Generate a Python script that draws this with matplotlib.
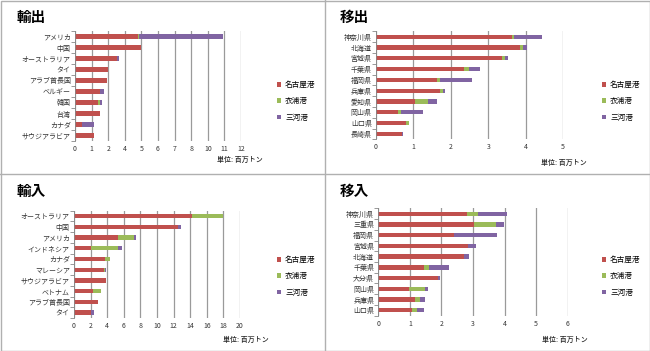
import matplotlib
matplotlib.use('Agg')
import matplotlib.pyplot as plt
from matplotlib.lines import Line2D
from matplotlib.patches import Rectangle
import numpy as np

plt.rcParams['font.family'] = ['Noto Sans CJK JP', 'DejaVu Sans']

ports = ['名古屋港', '衣浦港', '三河港']
colors = ['#C0504D', '#9BBB59', '#8064A2']

# 輸出 (the x axis in the picture has labels 0 1 2 4 5 6 7 8 10 11 12 on 10 equal steps)
exp_cats = ['アメリカ', '中国', 'オーストラリア', 'タイ', 'アラブ首長国', 'ベルギー',
            '韓国', '台湾', 'カナダ', 'サウジアラビア']
exp_nagoya = [3.80, 3.96, 2.56, 1.98, 1.92, 1.50, 1.40, 1.48, 0.40, 1.16]
exp_kinuura = [0.06, 0, 0, 0, 0, 0, 0.10, 0, 0, 0]
exp_mikawa = [5.08, 0, 0.08, 0, 0, 0.26, 0.14, 0, 0.76, 0]
exp_ticklabels = ['0', '1', '2', '4', '5', '6', '7', '8', '10', '11', '12']

# 移出
out_cats = ['神奈川県', '北海道', '宮城県', '千葉県', '福岡県', '兵庫県', '愛知県',
            '岡山県', '山口県', '長崎県']
out_nagoya = [3.63, 3.85, 3.38, 2.34, 1.64, 1.72, 1.04, 0.59, 0.80, 0.69]
out_kinuura = [0.05, 0.08, 0.06, 0.15, 0.08, 0.07, 0.36, 0.09, 0.07, 0]
out_mikawa = [0.75, 0.12, 0.10, 0.30, 0.86, 0.05, 0.23, 0.58, 0, 0.03]

# 輸入
imp_cats = ['オーストラリア', '中国', 'アメリカ', 'インドネシア', 'カナダ', 'マレーシア',
            'サウジアラビア', 'ベトナム', 'アラブ首長国', 'タイ']
imp_nagoya = [14.25, 12.55, 5.35, 2.00, 3.74, 3.62, 3.82, 2.33, 2.86, 2.05]
imp_kinuura = [3.65, 0, 1.93, 3.27, 0.56, 0.16, 0, 0.89, 0, 0]
imp_mikawa = [0.09, 0.29, 0.16, 0.48, 0, 0.08, 0, 0, 0, 0.32]

# 移入
in_cats = ['神奈川県', '三重県', '福岡県', '宮城県', '北海道', '千葉県', '大分県',
           '岡山県', '兵庫県', '山口県']
in_nagoya = [2.80, 3.04, 2.39, 2.83, 2.73, 1.45, 1.88, 0.98, 1.17, 1.07]
in_kinuura = [0.37, 0.69, 0.02, 0, 0, 0.16, 0, 0.51, 0.14, 0.15]
in_mikawa = [0.90, 0.26, 1.34, 0.26, 0.13, 0.64, 0.08, 0.07, 0.17, 0.24]

W, H = 650, 351
fig = plt.figure(figsize=(W / 100, H / 100), dpi=100)


def px_rect(left, right, top, bottom):
    return [left / W, 1 - bottom / H, (right - left) / W, (bottom - top) / H]


def panel(rect, title, title_xy, cats, series, xmax, step, legend_xy, unit_xy,
          ticklabels=None):
    ax = fig.add_axes(px_rect(*rect))
    y = np.arange(len(cats))
    left = np.zeros(len(cats))
    handles = []
    for vals, c in zip(series, colors):
        vals = np.array(vals, dtype=float)
        b = ax.barh(y, vals, left=left, height=0.4, color=c, linewidth=0, zorder=3)
        handles.append(b)
        left += vals
    ax.set_ylim(len(cats) - 0.5, -0.5)
    ax.set_xlim(0, xmax)
    ticks = np.arange(0, xmax + step / 2, step)
    ax.set_xticks(ticks)
    if ticklabels is not None:
        ax.set_xticklabels(ticklabels)
    else:
        ax.set_xticklabels([f'{t:g}' for t in ticks])
    ax.set_yticks(y)
    ax.set_yticklabels(cats)
    ax.set_yticks(np.arange(-0.5, len(cats)), minor=True)
    ax.tick_params(axis='y', which='major', length=0, labelsize=5, pad=3, colors='#333333')
    ax.tick_params(axis='y', which='minor', length=3, width=0.6, color='#888888')
    ax.tick_params(axis='x', length=0, labelsize=5, pad=3, colors='#333333')
    ax.grid(axis='x', color='#9a9a9a', linewidth=0.9, zorder=0)
    for s in ['top', 'right', 'bottom']:
        ax.spines[s].set_visible(False)
    ax.spines['left'].set_color('#888888')
    ax.spines['left'].set_linewidth(0.6)
    ax.spines['left'].set_zorder(4)

    fig.text(title_xy[0] / W, 1 - title_xy[1] / H, title, fontsize=10.5,
             fontweight='bold', ha='left', va='center')
    fig.text(unit_xy[0] / W, 1 - unit_xy[1] / H, '単位: 百万トン', fontsize=5,
             fontweight='medium', ha='right', va='center', color='#222222')
    ax.legend(handles, ports, loc='upper left',
              bbox_to_anchor=(legend_xy[0] / W, 1 - legend_xy[1] / H),
              bbox_transform=fig.transFigure, frameon=False, fontsize=5.5,
              handlelength=0.55, handleheight=0.55, handletextpad=0.5,
              labelspacing=1.1, borderaxespad=0, borderpad=0)
    return ax


panel((75, 241, 31, 141), '輸出', (17, 16.5), exp_cats,
      [exp_nagoya, exp_kinuura, exp_mikawa], 10, 1, (277, 81), (263, 160),
      exp_ticklabels)
panel((376, 563, 31.3, 139.3), '移出', (340, 16.5), out_cats,
      [out_nagoya, out_kinuura, out_mikawa], 5, 1, (602, 81), (587, 163))
panel((74, 240, 210.6, 318), '輸入', (17, 191), imp_cats,
      [imp_nagoya, imp_kinuura, imp_mikawa], 20, 2, (277, 256), (269, 340))
panel((378.3, 567.7, 208.3, 315.7), '移入', (340, 191), in_cats,
      [in_nagoya, in_kinuura, in_mikawa], 6, 1, (602, 256), (588, 340))

# panel frames
fig.add_artist(Rectangle((0.5 / W, 0.5 / H), 1 - 1 / W, 1 - 1 / H,
                         transform=fig.transFigure, fill=False,
                         edgecolor='#b0b0b0', linewidth=1))
fig.add_artist(Line2D([325 / W, 325 / W], [0, 1], transform=fig.transFigure,
                      color='#b0b0b0', linewidth=1))
fig.add_artist(Line2D([0, 1], [1 - 174 / H, 1 - 174 / H], transform=fig.transFigure,
                      color='#b0b0b0', linewidth=1))

fig.savefig('out.png', dpi=100)
